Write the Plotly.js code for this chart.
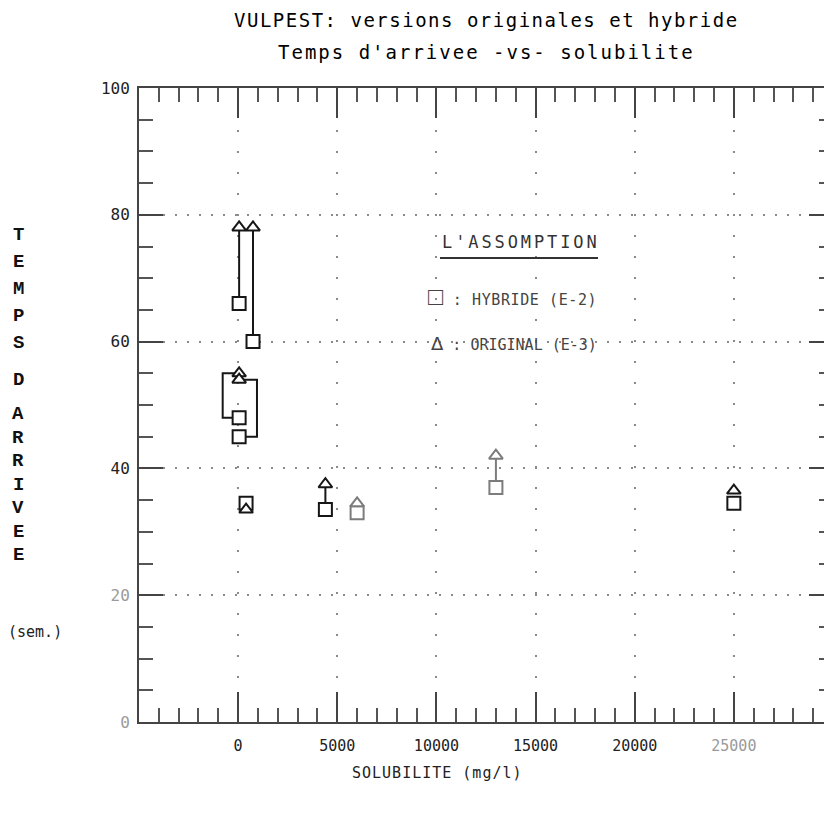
<!DOCTYPE html>
<html><head><meta charset="utf-8">
<script src="https://cdn.plot.ly/plotly-3.0.1.min.js"></script>
<style>html,body{margin:0;padding:0;overflow:hidden;background:#fff}#chart{width:834px;height:814px}</style>
</head><body><div id="chart"></div>
<script>
// ---- data ----
const solubilite    = [50, 750, 50, 50, 400, 4400, 6000, 13000, 25000];   // mg/l
const tempsOriginal = [78, 78, 55, 54, 33.5, 37.5, 34.5, 42, 36.5];        // triangles (E-3)
const tempsHybride  = [66, 60, 48, 45, 34.5, 33.5, 33, 37, 34.5];          // squares (E-2)
const xTickVals = [0, 5000, 10000, 15000, 20000, 25000];
const xTickText = ['0', '5000', '10000', '15000', '20000', '25000'];
const yTickVals = [0, 20, 40, 60, 80, 100];
const yTickText = ['0', '20', '40', '60', '80', '100'];

// ---- styling (not data) ----
const linkKind = ['line','line','bracketL','bracketR','none','line','none','line','none'];
const tone     = ['k','k','k','k','k','k','g','g','k'];
const COL = {k:'#161616', g:'#7c7c7c'};
const grayXTicks = ['25000'];
const grayYTicks = ['0','20'];
const MONO = 'DejaVu Sans Mono, monospace';
const sp = (t, ls) => '<span style="letter-spacing:' + ls + 'px">' + t + '</span>';

const traces = [];
// connectors / brackets
['k','g'].forEach(c => {
  const lx = [], ly = [];
  solubilite.forEach((x, i) => {
    if (tone[i] !== c) return;
    const o = tempsOriginal[i], h = tempsHybride[i];
    if (linkKind[i] === 'line') { lx.push(x, x, null); ly.push(o, h, null); }
    else if (linkKind[i] === 'bracketL') { const d = 830; lx.push(x, x - d, x - d, x, null); ly.push(o, o, h, h, null); }
    else if (linkKind[i] === 'bracketR') { const d = 900; lx.push(x, x + d, x + d, x, null); ly.push(o, o, h, h, null); }
  });
  if (lx.length) traces.push({x: lx, y: ly, mode: 'lines', line: {color: COL[c], width: 2}, hoverinfo: 'skip', showlegend: false});
});
// markers
['k','g'].forEach(c => {
  const idx = solubilite.map((_, i) => i).filter(i => tone[i] === c);
  traces.push({x: idx.map(i => solubilite[i]), y: idx.map(i => tempsHybride[i]), mode: 'markers',
    marker: {symbol: 'square', size: 13, color: '#fff', line: {color: COL[c], width: 2}}, showlegend: false, name: 'HYBRIDE (E-2)'});
});
['k','g'].forEach(c => {
  const idx = solubilite.map((_, i) => i).filter(i => tone[i] === c);
  traces.push({x: idx.map(i => solubilite[i]), y: idx.map(i => tempsOriginal[i]), mode: 'markers',
    marker: {symbol: 'triangle-up', size: 12, color: '#fff', line: {color: COL[c], width: 2}}, showlegend: false, name: 'ORIGINAL (E-3)'});
});

// paper-coordinate helpers (plot area: x 139..833 px, y 88..722 px)
const L = 139, R = 833, T = 88, B = 722;
const px = p => (p - L) / (R - L);
const py = p => (B - p) / (B - T);

const annotations = [
  {text: sp('VULPEST: versions originales et hybride', 1.5), x: 0.5, y: py(20), xref: 'paper', yref: 'paper', showarrow: false, xanchor: 'center', yanchor: 'middle', font: {family: MONO, size: 19, color: '#000'}},
  {text: sp("Temps d'arrivee -vs- solubilite", 2.0), x: 0.5, y: py(52), xref: 'paper', yref: 'paper', showarrow: false, xanchor: 'center', yanchor: 'middle', font: {family: MONO, size: 19, color: '#000'}},
  {text: sp('SOLUBILITE (mg/l)', 1), x: px(437), y: py(773), xref: 'paper', yref: 'paper', showarrow: false, xanchor: 'center', yanchor: 'middle', font: {family: MONO, size: 15, color: '#222'}},
  {text: '(sem.)', x: px(35), y: py(632), xref: 'paper', yref: 'paper', showarrow: false, xanchor: 'center', yanchor: 'middle', font: {family: MONO, size: 15, color: '#222'}},
  {text: sp("L'ASSOMPTION", 2.9), x: px(440), y: py(242), xref: 'paper', yref: 'paper', showarrow: false, xanchor: 'left', yanchor: 'middle', font: {family: MONO, size: 17, color: '#333'}},
  {text: '<span style="font-family:Liberation Sans;font-size:25px">□</span>' + sp(' : HYBRIDE (E-2)', 0.6), x: px(599), y: py(296), xref: 'paper', yref: 'paper', showarrow: false, xanchor: 'right', yanchor: 'middle', font: {family: MONO, size: 15, color: '#444'}},
  {text: '<span style="font-family:DejaVu Sans;font-size:18px">Δ</span>' + sp(' : ORIGINAL (E-3)', 0), x: px(599), y: py(343), xref: 'paper', yref: 'paper', showarrow: false, xanchor: 'right', yanchor: 'middle', font: {family: MONO, size: 15, color: '#444'}}
];
// vertical stacked y-axis label
const yWord1 = 'TEMPS'.split(''), yWord2 = 'D', yWord3 = 'ARRIVEE'.split('');
const yLetter = (ch, p) => annotations.push({text: ch, x: px(18), y: py(p), xref: 'paper', yref: 'paper', showarrow: false, xanchor: 'center', yanchor: 'middle', font: {family: 'Liberation Mono, monospace', size: 19, color: '#111', weight: 'bold'}});
yWord1.forEach((ch, k) => yLetter(ch, 235 + 27 * k));
yLetter(yWord2, 380);
yWord3.forEach((ch, k) => yLetter(ch, 414 + 23.5 * k));

const styleTick = (t, grays) => grays.includes(t) ? '<span style="color:#9a9a9a">' + t + '</span>' : t;

const layout = {
  width: 834, height: 814,
  margin: {l: L, r: 834 - R, t: T, b: 814 - B, pad: 0},
  paper_bgcolor: '#fff', plot_bgcolor: '#fff',
  showlegend: false, hovermode: false,
  xaxis: {range: [-5000, 30000], tickmode: 'array', tickvals: xTickVals, ticktext: xTickText.map(t => styleTick(t, grayXTicks)),
    ticks: 'inside', ticklen: 30, tickwidth: 2, tickcolor: '#444', mirror: 'allticks',
    minor: {dtick: 1000, tick0: 0, ticks: 'inside', ticklen: 14, tickwidth: 2, tickcolor: '#555', showgrid: false},
    showline: true, linecolor: '#444', linewidth: 2, zeroline: false,
    showgrid: true, gridcolor: '#8a8a8a', gridwidth: 2, griddash: '2px,19px',
    tickfont: {family: MONO, size: 15, color: '#222'}, ticklabelstandoff: 9},
  yaxis: {range: [0, 100], tickmode: 'array', tickvals: yTickVals, ticktext: yTickText.map(t => styleTick(t, grayYTicks)),
    ticks: 'inside', ticklen: 24, tickwidth: 2, tickcolor: '#444', mirror: 'allticks',
    minor: {dtick: 5, tick0: 0, ticks: 'inside', ticklen: 14, tickwidth: 2, tickcolor: '#555', showgrid: false},
    showline: true, linecolor: '#444', linewidth: 2, zeroline: false,
    showgrid: true, gridcolor: '#8a8a8a', gridwidth: 2, griddash: '2px,10px',
    tickfont: {family: MONO, size: 16, color: '#222'}, ticklabelstandoff: 4},
  annotations: annotations,
  shapes: [{type: 'line', xref: 'paper', yref: 'paper', x0: px(440), x1: px(598), y0: py(258), y1: py(258), line: {color: '#333', width: 2}}]
};

Plotly.newPlot('chart', traces, layout, {staticPlot: true, displayModeBar: false});
</script>
</body></html>
